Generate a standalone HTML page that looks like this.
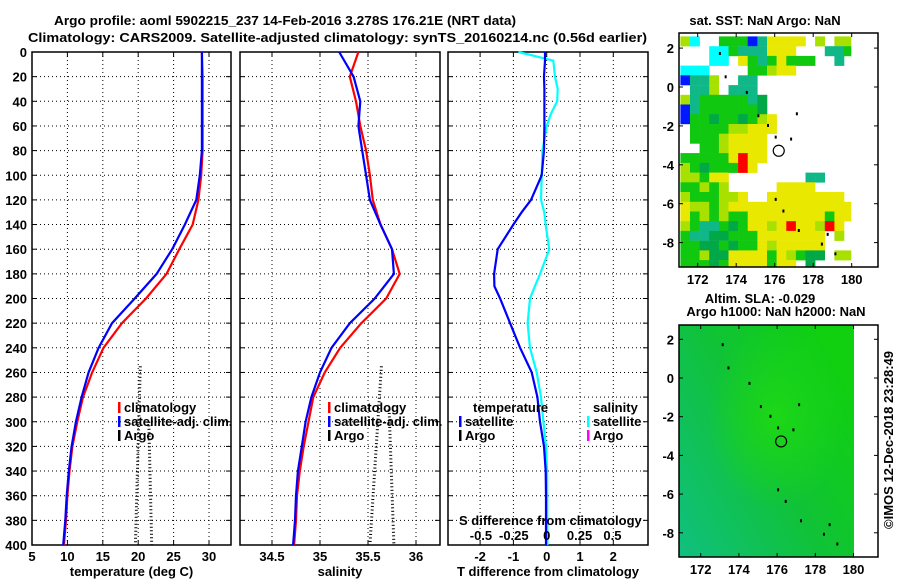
<!DOCTYPE html>
<html><head><meta charset="utf-8"><style>
html,body{margin:0;padding:0;background:#fff;}
svg text{font-family:"Liberation Sans",sans-serif;font-weight:bold;font-size:13px;fill:#000;}
</style></head><body>
<svg id="c" width="900" height="580" viewBox="0 0 900 580" xmlns="http://www.w3.org/2000/svg">
<defs>
<linearGradient id="slaG" x1="1" y1="0.3" x2="0" y2="1">
<stop offset="0" stop-color="#10d010"/><stop offset="0.45" stop-color="#10c238"/><stop offset="1" stop-color="#10c080"/></linearGradient>
<radialGradient id="slaR" cx="0.55" cy="0.4" r="0.4"><stop offset="0" stop-color="#20dc10" stop-opacity="0.8"/><stop offset="1" stop-color="#20dc10" stop-opacity="0"/></radialGradient>
</defs>
<text x="54" y="25" font-size="14.5" textLength="462" lengthAdjust="spacingAndGlyphs">Argo profile: aoml 5902215_237 14-Feb-2016 3.278S 176.21E (NRT data)</text>
<text x="28" y="42" font-size="14.5" textLength="619" lengthAdjust="spacingAndGlyphs">Climatology: CARS2009. Satellite-adjusted climatology: synTS_20160214.nc (0.56d earlier)</text>
<text transform="translate(893,440) rotate(-90)" text-anchor="middle" font-weight="normal" font-size="12">©IMOS 12-Dec-2018 23:28:49</text>
</svg>
<script>
const depths=[0,20,40,60,80,100,120,140,160,180,200,220,240,260,280,300,320,340,360,380,400];
const tempClim=[29,29.1,29.1,29.1,29.1,28.9,28.5,27.7,25.8,24.0,21.1,17.7,15.1,13.5,12.2,11.4,10.7,10.3,10.0,9.8,9.5];
const tempSat=[29,29,29,29,29,28.7,28.2,26.6,24.8,22.6,19.5,16.3,14.4,13.0,12.0,11.2,10.6,10.2,9.9,9.7,9.4];
const salClim=[35.40,35.31,35.375,35.42,35.48,35.52,35.55,35.63,35.75,35.83,35.69,35.43,35.21,35.05,34.93,34.88,34.83,34.79,34.76,34.75,34.73];
const salSat=[35.20,35.35,35.42,35.40,35.44,35.48,35.52,35.63,35.75,35.77,35.57,35.31,35.12,35.0,34.91,34.85,34.81,34.77,34.75,34.74,34.72];
const diffDepths=[0,7,20,30,40,50,60,80,100,120,130,140,160,180,190,200,220,240,260,280,300,320,340,360,400];
const tDiffSat=[-0.05,-0.05,-0.08,-0.07,-0.07,-0.07,-0.07,-0.08,-0.15,-0.47,-0.75,-1.0,-1.47,-1.58,-1.57,-1.4,-1.1,-0.8,-0.45,-0.28,-0.2,-0.08,-0.03,-0.02,-0.02];
const sDiffSat=[-0.215,0.05,0.063,0.084,0.08,0.033,0,-0.033,-0.038,-0.043,-0.018,-0.008,0.02,-0.05,-0.09,-0.127,-0.145,-0.127,-0.076,-0.043,-0.025,-0.005,0.003,0.004,0.005];
const argoTDepth=[255,400];const argoT1=[20.3,19.6];
const argoTDepth2=[300,400];const argoT2=[21.5,21.9];
const argoSDepth=[255,400];const argoS1=[35.64,35.52];
const argoSDepth2=[290,400];const argoS2=[35.72,35.77];
const depthTicks=[0,20,40,60,80,100,120,140,160,180,200,220,240,260,280,300,320,340,360,380,400];
const tempTicks=[5,10,15,20,25,30];
const salTicks=[34.5,35,35.5,36];
const tDiffTicks=[-2,-1,0,1,2];
const sDiffTicks=[-0.5,-0.25,0,0.25,0.5];
const sDiffLabels=["-0.5","-0.25","0","0.25","0.5"];
const latTicks=[2,0,-2,-4,-6,-8];
const lonTicks=[172,174,176,178,180];
const sstGrid=[
"LCWWGGGBTYYYYWLWLLW",
"WWWCCGTTTYYYWWWTTGW",
"WWWCCWYGTGYGGGWWTWW",
"CCCWWWWGGLYYWWWWWWW",
"BTTLWWTTWWWWWWWWWWW",
"WTTLWTTTWWWWWWWWWWW",
"LTGGGGGTDWWWWWWWWWW",
"BTGGGGGGDWWWWWWWWWW",
"BGGDGGDGLYWWWWWWWWW",
"WGGGGLLYYYWWWWWWWWW",
"WGGGLYYYYWWWWWWWWWW",
"WWGGLYYYYWWWWWWWWWW",
"GGGGGYRYYWWWWWWWWWW",
"LGDGGGRYWWWWWWWWWWW",
"LLGYYWWWWWWWWTTWWWW",
"GGLGLWWWWWYYYYWWWWW",
"LGGGLLYWWYYYYYYYYWW",
"YLLGLYYYYYYYYYYYYYW",
"YGLGLGGYYYYYYYYGYYW",
"LGTTGDGYYLYRYYLRYWW",
"GTTDDGGGYYYYYYYWLWW",
"GGDDGDGGYLYYYYYWWWW",
"GGLDDYYYYGYLGDDWLLW",
"GGGDGYYYYGYYWDWWWWW"];
const sstColors={Y:"#e8e800",G:"#10c810",D:"#00a848",T:"#10b888",L:"#a8e000",C:"#00ffff",B:"#0018ff",R:"#ff0000"};
const islandLon=[173.1,173.4,174.5,175.1,175.6,176.0,176.8,176.0,176.4,177.2,178.4,178.7,179.1,177.1];
const islandLat=[1.8,0.6,-0.2,-1.4,-1.9,-2.5,-2.6,-5.7,-6.3,-7.3,-8.0,-7.5,-8.5,-1.3];

const NS="http://www.w3.org/2000/svg";
const svg=document.getElementById('c');
function mk(tag,attrs,parent){const e=document.createElementNS(NS,tag);for(const k in attrs)e.setAttribute(k,attrs[k]);(parent||svg).appendChild(e);return e;}
const Y0=52,Y1=545;
function yD(d){return Y0+(d/400)*(Y1-Y0);}

function panel(name,x0,x1,xScale,xticks,xlabels,showY,xtitle){
  const g=mk('g',{});
  
  
  depthTicks.forEach(d=>{const y=yD(d);
    if(d>0&&d<400){const l=mk('line',{x1:x0,x2:x1,y1:y,y2:y,stroke:'#000','stroke-width':1,'stroke-dasharray':'1,3'},g);
      }
    mk('line',{x1:x0,x2:x0+5,y1:y,y2:y,stroke:'#000'},g);mk('line',{x1:x1-5,x2:x1,y1:y,y2:y,stroke:'#000'},g);
    if(showY){const t=mk('text',{x:x0-5,y:y+5,'text-anchor':'end'},g);t.textContent=d;
      }
  });
  xticks.forEach((v,i)=>{const x=xScale(v);
    const l=mk('line',{x1:x,x2:x,y1:Y0,y2:Y1,stroke:'#000','stroke-dasharray':'1,3'},g);
    
    mk('line',{x1:x,x2:x,y1:Y1-5,y2:Y1,stroke:'#000'},g);mk('line',{x1:x,x2:x,y1:Y0,y2:Y0+5,stroke:'#000'},g);
    const t=mk('text',{x:x,y:561,'text-anchor':'middle'},g);t.textContent=xlabels[i];
    
  });
  const r=mk('rect',{x:x0,y:Y0,width:x1-x0,height:Y1-Y0,fill:'none',stroke:'#000','stroke-width':1.5},g);
  
  const t=mk('text',{x:(x0+x1)/2,y:576,'text-anchor':'middle'},g);t.textContent=xtitle;
  
  return g;
}
function line(g,xs,ds,xScale,color,w,dash,nm){
  const pts=xs.map((v,i)=>xScale(v).toFixed(1)+','+yD(ds[i]).toFixed(1)).join(' ');
  const a={points:pts,fill:'none',stroke:color,'stroke-width':w};if(dash)a['stroke-dasharray']=dash;
  const p=mk('polyline',a,g);
  
  
}
function legend(g,x,y,items){
  items.forEach((it,i)=>{const yy=y+i*14;
    mk('rect',{x:x,y:yy-10,width:2.5,height:11,fill:it[1]},g);
    const t=mk('text',{x:x+6,y:yy},g);t.textContent=it[0];
    });
}
// temperature
const xT=v=>32+(v-5)*7.08;
const gT=panel('temperature',32,231,xT,tempTicks,tempTicks.map(String),true,'temperature (deg C)');
line(gT,argoT1,argoTDepth,xT,'#000',3,'1,2.5','argo-temp-line-1');
line(gT,argoT2,argoTDepth2,xT,'#000',3,'1,2.5','argo-temp-line-2');
line(gT,tempClim,depths,xT,'#ff0000',2.2,null,'temp-climatology-line');
line(gT,tempSat,depths,xT,'#0000ff',2.2,null,'temp-satellite-line');
legend(gT,118,412,[['climatology','#ff0000'],['satellite-adj. clim.','#0000ff'],['Argo','#000']]);
// salinity
const xS=v=>320+(v-35)*96;
const gS=panel('salinity',240,440,xS,salTicks,salTicks.map(String),false,'salinity');
line(gS,argoS1,argoSDepth,xS,'#000',3,'1,2.5','argo-sal-line-1');
line(gS,argoS2,argoSDepth2,xS,'#000',3,'1,2.5','argo-sal-line-2');
line(gS,salClim,depths,xS,'#ff0000',2.2,null,'sal-climatology-line');
line(gS,salSat,depths,xS,'#0000ff',2.2,null,'sal-satellite-line');
legend(gS,328,412,[['climatology','#ff0000'],['satellite-adj. clim.','#0000ff'],['Argo','#000']]);
// difference
const xTd=v=>546.7+v*33.3;
const xSd=v=>546.7+v*131.5;
const gD=panel('difference',448,648,xTd,tDiffTicks,tDiffTicks.map(String),false,'T difference from climatology');
line(gD,sDiffSat,diffDepths,xSd,'#00ffff',2.2,null,'sal-diff-satellite-line');
line(gD,tDiffSat,diffDepths,xTd,'#0000ff',2.2,null,'temp-diff-satellite-line');
{const t=mk('text',{x:473,y:412},gD);t.textContent='temperature';}
legend(gD,459,426,[['satellite','#0000ff'],['Argo','#000']]);
{const t=mk('text',{x:593,y:412},gD);t.textContent='salinity';}
legend(gD,587,426,[['satellite','#00ffff'],['Argo','#ff00ff']]);
{const t=mk('text',{x:459,y:525},gD);t.textContent='S difference from climatology';}
sDiffTicks.forEach((v,i)=>{const t=mk('text',{x:xSd(v),y:540,'text-anchor':'middle'},gD);t.textContent=sDiffLabels[i];
  });

// maps
function mapAxes(name,x0,y0,x1,y1,lonS,latS){
  const g=mk('g',{});
  
  
  latTicks.forEach(v=>{const y=latS(v);mk('line',{x1:x0,x2:x0+4,y1:y,y2:y,stroke:'#000'},g);mk('line',{x1:x1-4,x2:x1,y1:y,y2:y,stroke:'#000'},g);
    const t=mk('text',{x:x0-5,y:y+5,'text-anchor':'end'},g);t.textContent=v;});
  lonTicks.forEach(v=>{const x=lonS(v);mk('line',{x1:x,x2:x,y1:y1-4,y2:y1,stroke:'#000'},g);mk('line',{x1:x,x2:x,y1:y0,y2:y0+4,stroke:'#000'},g);
    const t=mk('text',{x:x,y:y1+17,'text-anchor':'middle'},g);t.textContent=v;});
  mk('rect',{x:x0,y:y0,width:x1-x0,height:y1-y0,fill:'none',stroke:'#000','stroke-width':1.5},g);
  return g;
}
// SST map
const lonA=v=>697.7+(v-172)*19.25, latA=v=>87-v*19.45;
const gM=mk('g',{});


sstGrid.forEach((row,r)=>{for(let c=0;c<row.length;c++){const ch=row[c];if(ch==='W')continue;
  const lo=171.1+c*0.5, la=2.6-r*0.5;
  const x=lonA(lo),y=latA(la),x2=Math.min(lonA(lo+0.5),851),y2=Math.min(latA(la-0.5),267);
  if(x2<=x)continue;
  const cell=mk('rect',{x:x.toFixed(1),y:y.toFixed(1),width:(x2-x+0.3).toFixed(1),height:(y2-y+0.3).toFixed(1),fill:sstColors[ch]},gM);
  
  
}});
islandLon.forEach((lo,i)=>{mk('rect',{x:lonA(lo),y:latA(islandLat[i]),width:2,height:3,fill:'#000'},gM);});
mapAxes('sst-map-axes',679,33,878,267,lonA,latA);
{const c=mk('circle',{cx:lonA(176.21),cy:latA(-3.278),r:5.5,fill:'none',stroke:'#000','stroke-width':1.2});}
{const t=mk('text',{x:765,y:25,'text-anchor':'middle'});t.textContent='sat. SST: NaN Argo: NaN';}
// SLA map
const lonB=v=>700.7+(v-172)*19.1, latB=v=>378-v*19.35;
const gB=mk('g',{});


mk('rect',{x:679,y:325,width:175,height:232,fill:'url(#slaG)'},gB);
mk('rect',{x:679,y:325,width:175,height:232,fill:'url(#slaR)'},gB);
islandLon.forEach((lo,i)=>{mk('rect',{x:lonB(lo),y:latB(islandLat[i]),width:2,height:3,fill:'#000'},gB);});
mapAxes('sla-map-axes',679,325,878,557,lonB,latB);
{const c=mk('circle',{cx:lonB(176.21),cy:latB(-3.278),r:5.5,fill:'none',stroke:'#000','stroke-width':1.2});}
{const t=mk('text',{x:760,y:303,'text-anchor':'middle'});t.textContent='Altim. SLA: -0.029';}
{const t=mk('text',{x:776,y:316,'text-anchor':'middle'});t.textContent='Argo h1000: NaN h2000: NaN';}
</script>
</body></html>
